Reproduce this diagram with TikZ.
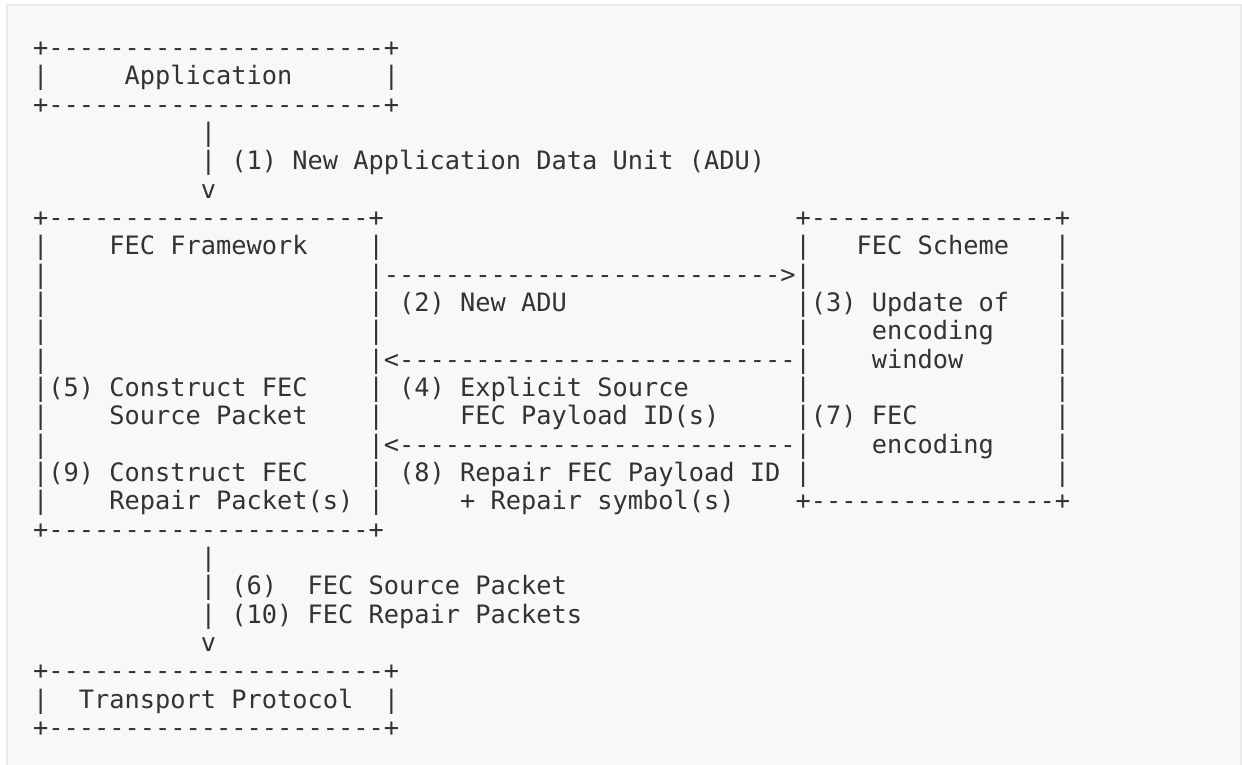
\documentclass[tikz,border=0pt]{standalone}
\usepackage{fontspec}
\usepackage{xcolor}
\usepackage{tikz}
\newfontfamily\asciimono{DejaVu Sans Mono}[Ligatures=TeXOff]
\definecolor{inkgray}{RGB}{51,51,51}
\definecolor{panelgray}{RGB}{248,248,248}
\definecolor{edgegray}{RGB}{234,234,234}

\begin{document}
\begin{tikzpicture}[
    x=15.25pt, y=-28.33pt,
    txt/.style={anchor=base west, inner sep=0pt, outer sep=0pt, text=inkgray,
        font=\asciimono\fontsize{25.33pt}{28.33pt}\selectfont}
]
    % Canvas and panel
    \useasboundingbox (0pt,0pt) rectangle (1242pt,-765pt);
    \fill[white] (0pt,0pt) rectangle (1242pt,-765pt);
    \fill[panelgray] (7pt,-5pt) rectangle (1242pt,-765pt);
    \draw[edgegray, line width=2pt] (7pt,-766pt) -- (7pt,-5pt) -- (1241pt,-5pt) -- (1241pt,-766pt);

    \begin{scope}[shift={(33.1pt,-28.34pt)}]
    % Application box
    \node[txt] (apptop) at (0,1) {+----------------------+};
    \node[txt] (appl) at (0,2) {|};
    \node[txt] (app) at (6,2) {Application};
    \node[txt] (appr) at (23,2) {|};
    \node[txt] (appbot) at (0,3) {+----------------------+};

    % New ADU arrow
    \node[txt] (adu1) at (11,4) {|};
    \node[txt] (adu2) at (11,5) {|};
    \node[txt] (adulabel) at (13,5) {(1) New Application Data Unit (ADU)};
    \node[txt] (aduhead) at (11,6) {v};

    % FEC Framework box
    \node[txt] (fwtop) at (0,7) {+---------------------+};
    \foreach \r in {8,...,17} {
        \node[txt] (fwl\r) at (0,\r) {|};
        \node[txt] (fwr\r) at (22,\r) {|};
    }
    \node[txt] (fw) at (5,8) {FEC Framework};
    \node[txt] (step5) at (1,13) {(5) Construct FEC};
    \node[txt] (step5b) at (5,14) {Source Packet};
    \node[txt] (step9) at (1,16) {(9) Construct FEC};
    \node[txt] (step9b) at (5,17) {Repair Packet(s)};
    \node[txt] (fwbot) at (0,18) {+---------------------+};

    % FEC Scheme box
    \node[txt] (schtop) at (50,7) {+----------------+};
    \foreach \r in {8,...,16} {
        \node[txt] (schl\r) at (50,\r) {|};
        \node[txt] (schr\r) at (67,\r) {|};
    }
    \node[txt] (sch) at (54,8) {FEC Scheme};
    \node[txt] (step3) at (51,10) {(3) Update of};
    \node[txt] (step3b) at (55,11) {encoding};
    \node[txt] (step3c) at (55,12) {window};
    \node[txt] (step7) at (51,14) {(7) FEC};
    \node[txt] (step7b) at (55,15) {encoding};
    \node[txt] (schbot) at (50,17) {+----------------+};

    % Arrows between framework and scheme
    \node[txt] (toscheme) at (23,9) {-------------------------->};
    \node[txt] (step2) at (24,10) {(2) New ADU};
    \node[txt] (fromsch1) at (23,12) {<--------------------------};
    \node[txt] (step4) at (24,13) {(4) Explicit Source};
    \node[txt] (step4b) at (28,14) {FEC Payload ID(s)};
    \node[txt] (fromsch2) at (23,15) {<--------------------------};
    \node[txt] (step8) at (24,16) {(8) Repair FEC Payload ID};
    \node[txt] (step8b) at (28,17) {+ Repair symbol(s)};

    % Packets arrow
    \foreach \r in {19,20,21} {
        \node[txt] (pkt\r) at (11,\r) {|};
    }
    \node[txt] (step6) at (13,20) {(6)};
    \node[txt] (step6b) at (18,20) {FEC Source Packet};
    \node[txt] (step10) at (13,21) {(10) FEC Repair Packets};
    \node[txt] (pkthead) at (11,22) {v};

    % Transport box
    \node[txt] (trtop) at (0,23) {+----------------------+};
    \node[txt] (trl) at (0,24) {|};
    \node[txt] (tr) at (3,24) {Transport Protocol};
    \node[txt] (trr) at (23,24) {|};
    \node[txt] (trbot) at (0,25) {+----------------------+};
    \end{scope}
\end{tikzpicture}
\end{document}
